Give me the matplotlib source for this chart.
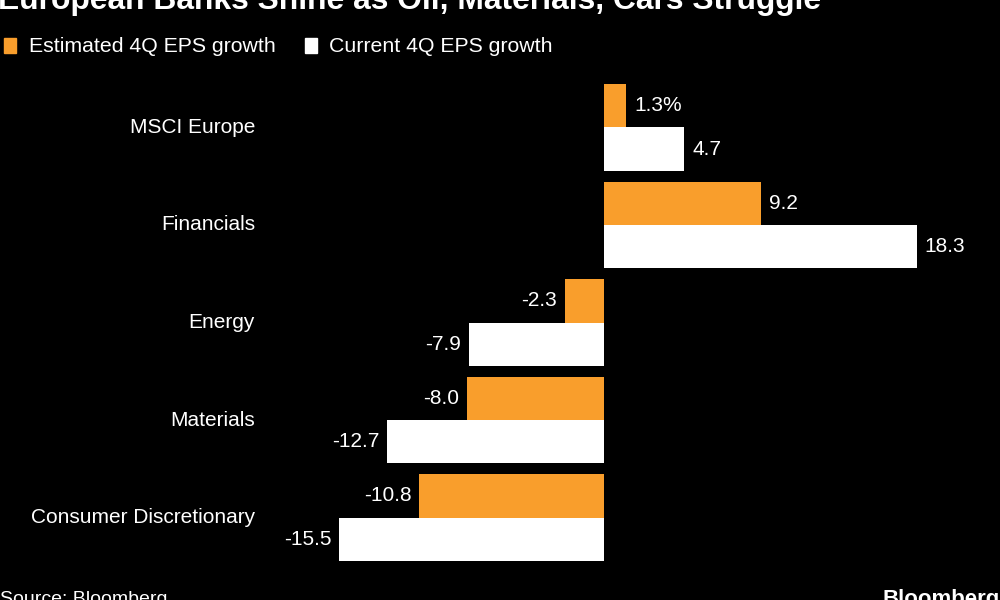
import matplotlib
matplotlib.use("Agg")
import matplotlib.pyplot as plt
from matplotlib.font_manager import findfont, FontProperties

categories = ["MSCI Europe", "Financials", "Energy", "Materials", "Consumer Discretionary"]
estimated = [1.3, 9.2, -2.3, -8.0, -10.8]
current = [4.7, 18.3, -7.9, -12.7, -15.5]
est_labels = ["1.3%", "9.2", "-2.3", "-8.0", "-10.8"]
cur_labels = ["4.7", "18.3", "-7.9", "-12.7", "-15.5"]

ORANGE = "#F99E2C"
BG = "black"

try:
    findfont(FontProperties(family="Liberation Sans Narrow"), fallback_to_default=False)
    font = "Liberation Sans Narrow"
except Exception:
    font = "Liberation Sans"
plt.rcParams["font.family"] = [font, "DejaVu Sans"]

fig = plt.figure(figsize=(10, 6), dpi=100, facecolor=BG)
# axes placed in pixels: x 270..1000, y 84..561
ax = fig.add_axes([0.27, 39 / 600, 0.73, 477 / 600], facecolor=BG)

h = 0.446
pos = list(range(len(categories)))
ax.barh([p - h / 2 for p in pos], estimated, height=h, color=ORANGE)
ax.barh([p + h / 2 for p in pos], current, height=h, color="white")

ax.set_xlim(-(604 - 270) / 17.1, (1000 - 604) / 17.1)
ax.set_ylim(4 + h, -h)
ax.axis("off")

pad = 0.45
for p, v, lab in zip(pos, estimated, est_labels):
    ax.text(v + pad if v >= 0 else v - pad, p - h / 2, lab, color="white",
            fontsize=15, va="center", ha="left" if v >= 0 else "right")
for p, v, lab in zip(pos, current, cur_labels):
    ax.text(v + pad if v >= 0 else v - pad, p + h / 2, lab, color="white",
            fontsize=15, va="center", ha="left" if v >= 0 else "right")

for p, c in zip(pos, categories):
    fig.text(255 / 1000, 1 - (127.5 + 97.5 * p) / 600, c, color="white",
             fontsize=15, ha="right", va="center")

# title, cut off at top edge like the reference
fig.text(-0.002, 1 - 9 / 600, "European Banks Shine as Oil, Materials, Cars Struggle",
         color="white", fontsize=22.9, fontweight="bold", ha="left", va="baseline")

# legend
fig.patches.append(plt.Rectangle((4 / 1000, 1 - 53 / 600), 12 / 1000, 15 / 600,
                                 transform=fig.transFigure, color=ORANGE))
fig.text(29 / 1000, 1 - 46 / 600, "Estimated 4Q EPS growth", color="white",
         fontsize=15.3, ha="left", va="center")
fig.patches.append(plt.Rectangle((305 / 1000, 1 - 53 / 600), 12 / 1000, 15 / 600,
                                 transform=fig.transFigure, color="white"))
fig.text(329 / 1000, 1 - 46 / 600, "Current 4Q EPS growth", color="white",
         fontsize=15.3, ha="left", va="center")

# footer, cut off at bottom edge
fig.text(0.0, 1 - 591 / 600, "Source: Bloomberg", color="white", fontsize=14,
         ha="left", va="top")
fig.text(1.0, 1 - 589 / 600, "Bloomberg", color="white", fontsize=16,
         fontweight="bold", ha="right", va="top")

fig.savefig("out.png", dpi=100, facecolor=BG)
